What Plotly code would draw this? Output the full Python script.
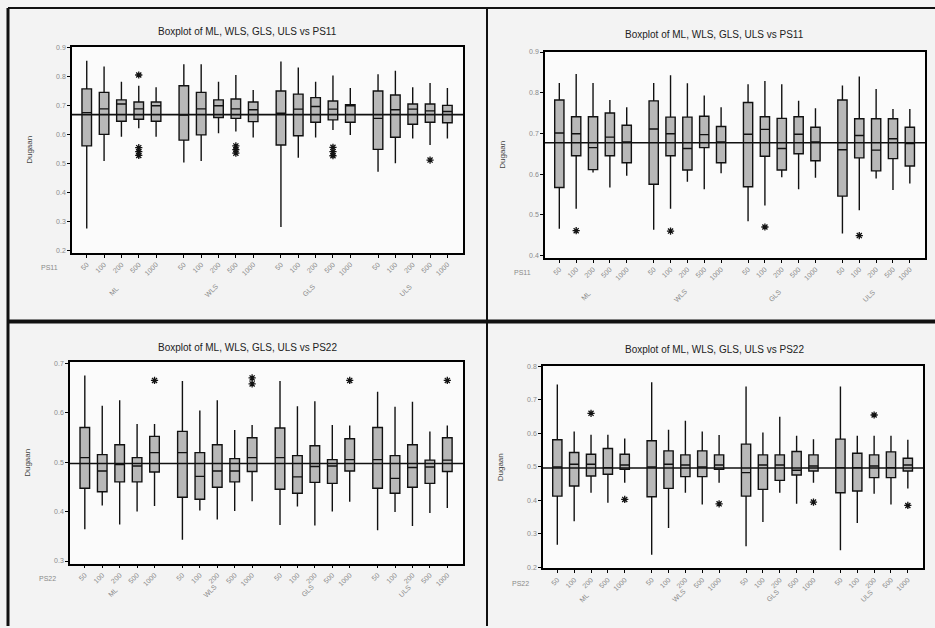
import plotly.graph_objects as go

# ---------------- data ----------------
methods = ["ML", "WLS", "GLS", "ULS"]
sizes = ["50", "100", "200", "500", "1000"]

# Panel 1: top-left, PS11
p1_title = "Boxplot of ML, WLS, GLS, ULS vs PS11"
p1_ref = 0.668
p1_upper = [0.854, 0.834, 0.782, 0.768, 0.763, 0.842, 0.842, 0.782, 0.805, 0.753,
            0.852, 0.831, 0.782, 0.803, 0.760, 0.808, 0.820, 0.763, 0.777, 0.760]
p1_q3 = [0.757, 0.745, 0.719, 0.712, 0.712, 0.768, 0.745, 0.719, 0.722, 0.712,
         0.750, 0.739, 0.727, 0.715, 0.702, 0.750, 0.736, 0.705, 0.705, 0.700]
p1_med = [0.675, 0.688, 0.705, 0.688, 0.699, 0.667, 0.688, 0.699, 0.688, 0.685,
          0.673, 0.687, 0.696, 0.687, 0.700, 0.655, 0.685, 0.687, 0.681, 0.679]
p1_q1 = [0.560, 0.600, 0.645, 0.652, 0.645, 0.580, 0.598, 0.658, 0.655, 0.644,
         0.563, 0.595, 0.642, 0.650, 0.642, 0.548, 0.590, 0.635, 0.642, 0.640]
p1_lower = [0.275, 0.508, 0.592, 0.621, 0.592, 0.503, 0.508, 0.604, 0.610, 0.589,
            0.280, 0.519, 0.589, 0.615, 0.598, 0.471, 0.500, 0.586, 0.563, 0.586]
p1_out_idx = [3, 3, 3, 3, 8, 8, 8, 13, 13, 13, 18]
p1_out_val = [0.805, 0.554, 0.540, 0.527, 0.560, 0.547, 0.535, 0.555, 0.540, 0.526, 0.511]
p1_yticks = [0.2, 0.3, 0.4, 0.5, 0.6, 0.7, 0.8, 0.9]

# Panel 2: top-right, PS11
p2_title = "Boxplot of ML, WLS, GLS, ULS vs PS11"
p2_ref = 0.677
p2_upper = [0.824, 0.846, 0.824, 0.782, 0.764, 0.824, 0.843, 0.823, 0.793, 0.764,
            0.821, 0.829, 0.821, 0.780, 0.762, 0.818, 0.840, 0.809, 0.760, 0.760]
p2_q3 = [0.782, 0.741, 0.741, 0.750, 0.720, 0.780, 0.740, 0.740, 0.742, 0.717,
         0.776, 0.741, 0.737, 0.741, 0.715, 0.782, 0.736, 0.736, 0.736, 0.715]
p2_med = [0.701, 0.699, 0.665, 0.691, 0.679, 0.711, 0.699, 0.663, 0.697, 0.679,
          0.698, 0.710, 0.663, 0.698, 0.679, 0.660, 0.695, 0.659, 0.687, 0.675]
p2_q1 = [0.567, 0.645, 0.611, 0.645, 0.628, 0.575, 0.645, 0.610, 0.665, 0.628,
         0.569, 0.644, 0.610, 0.650, 0.633, 0.546, 0.640, 0.608, 0.638, 0.620]
p2_lower = [0.466, 0.515, 0.604, 0.567, 0.596, 0.463, 0.515, 0.581, 0.563, 0.602,
            0.484, 0.523, 0.592, 0.563, 0.591, 0.454, 0.511, 0.589, 0.561, 0.577]
p2_out_idx = [1, 6, 11, 16]
p2_out_val = [0.461, 0.460, 0.470, 0.449]
p2_yticks = [0.4, 0.5, 0.6, 0.7, 0.8, 0.9]

# Panel 3: bottom-left, PS22
p3_title = "Boxplot of ML, WLS, GLS, ULS vs PS22"
p3_ref = 0.497
p3_upper = [0.675, 0.614, 0.625, 0.577, 0.577, 0.664, 0.604, 0.625, 0.565, 0.575,
            0.664, 0.613, 0.623, 0.575, 0.574, 0.642, 0.612, 0.622, 0.562, 0.574]
p3_q3 = [0.570, 0.515, 0.535, 0.509, 0.552, 0.562, 0.519, 0.535, 0.507, 0.549,
         0.569, 0.513, 0.533, 0.505, 0.547, 0.570, 0.513, 0.535, 0.504, 0.549]
p3_med = [0.509, 0.482, 0.495, 0.492, 0.519, 0.519, 0.471, 0.482, 0.482, 0.509,
          0.509, 0.470, 0.491, 0.492, 0.505, 0.505, 0.467, 0.489, 0.490, 0.504]
p3_q1 = [0.447, 0.440, 0.460, 0.460, 0.480, 0.429, 0.425, 0.449, 0.460, 0.481,
         0.445, 0.437, 0.459, 0.457, 0.482, 0.447, 0.437, 0.449, 0.457, 0.481]
p3_lower = [0.364, 0.412, 0.374, 0.400, 0.411, 0.343, 0.402, 0.384, 0.401, 0.421,
            0.373, 0.410, 0.372, 0.400, 0.420, 0.362, 0.399, 0.371, 0.397, 0.407]
p3_out_idx = [4, 9, 9, 14, 19]
p3_out_val = [0.665, 0.670, 0.658, 0.665, 0.665]
p3_yticks = [0.3, 0.4, 0.5, 0.6, 0.7]

# Panel 4: bottom-right, PS22
p4_title = "Boxplot of ML, WLS, GLS, ULS vs PS22"
p4_ref = 0.497
p4_upper = [0.746, 0.606, 0.596, 0.596, 0.585, 0.753, 0.611, 0.638, 0.606, 0.595,
            0.740, 0.603, 0.650, 0.593, 0.583, 0.740, 0.593, 0.593, 0.593, 0.581]
p4_q3 = [0.581, 0.543, 0.538, 0.555, 0.538, 0.578, 0.548, 0.536, 0.548, 0.536,
         0.568, 0.536, 0.536, 0.546, 0.536, 0.583, 0.541, 0.536, 0.545, 0.526]
p4_med = [0.500, 0.508, 0.508, 0.498, 0.506, 0.500, 0.508, 0.506, 0.500, 0.506,
          0.483, 0.506, 0.506, 0.490, 0.503, 0.498, 0.498, 0.503, 0.498, 0.506]
p4_q1 = [0.413, 0.443, 0.473, 0.478, 0.493, 0.411, 0.436, 0.471, 0.471, 0.493,
         0.413, 0.433, 0.460, 0.476, 0.488, 0.423, 0.428, 0.468, 0.468, 0.488]
p4_lower = [0.268, 0.338, 0.423, 0.393, 0.453, 0.238, 0.318, 0.423, 0.388, 0.453,
            0.263, 0.336, 0.423, 0.390, 0.453, 0.251, 0.333, 0.420, 0.388, 0.436]
p4_out_idx = [2, 4, 9, 14, 17, 19]
p4_out_val = [0.660, 0.403, 0.390, 0.395, 0.655, 0.385]
p4_yticks = [0.2, 0.3, 0.4, 0.5, 0.6, 0.7, 0.8]

# ---------------- layout helpers ----------------
W, H = 935, 628
GROUP_STEP = 5.6
pos = [g * GROUP_STEP + i for g in range(len(methods)) for i in range(len(sizes))]
ticktext = [s for _ in methods for s in sizes]

def px_x(v):
    return v / W

def px_y(v):
    return 1 - v / H

panels = [
    dict(title=p1_title, ref=p1_ref, up=p1_upper, q3=p1_q3, med=p1_med, q1=p1_q1, lo=p1_lower,
         oi=p1_out_idx, ov=p1_out_val, yt=p1_yticks, yr=[0.19, 0.903],
         frame=(72, 463, 44, 252), tcx=247, tcy=29, ps="PS11"),
    dict(title=p2_title, ref=p2_ref, up=p2_upper, q3=p2_q3, med=p2_med, q1=p2_q1, lo=p2_lower,
         oi=p2_out_idx, ov=p2_out_val, yt=p2_yticks, yr=[0.394, 0.901],
         frame=(545, 925, 49, 257), tcx=714, tcy=32, ps="PS11"),
    dict(title=p3_title, ref=p3_ref, up=p3_upper, q3=p3_q3, med=p3_med, q1=p3_q1, lo=p3_lower,
         oi=p3_out_idx, ov=p3_out_val, yt=p3_yticks, yr=[0.295, 0.702],
         frame=(70, 463, 362, 565), tcx=247, tcy=347, ps="PS22"),
    dict(title=p4_title, ref=p4_ref, up=p4_upper, q3=p4_q3, med=p4_med, q1=p4_q1, lo=p4_lower,
         oi=p4_out_idx, ov=p4_out_val, yt=p4_yticks, yr=[0.197, 0.801],
         frame=(543, 923, 366, 570), tcx=714, tcy=349, ps="PS22"),
]

fig = go.Figure()
layout = dict(
    width=W, height=H, margin=dict(l=0, r=0, t=0, b=0),
    paper_bgcolor="#f3f3f3", plot_bgcolor="#fbfbfb",
    showlegend=False, font=dict(family="Liberation Sans, Arial, sans-serif", color="#222"),
)
shapes, annotations = [], []
tick_font = dict(size=7, color="#8a8a8a")

for k, p in enumerate(panels, start=1):
    xa = "x" if k == 1 else f"x{k}"
    ya = "y" if k == 1 else f"y{k}"
    xl, xr, yt_, yb = p["frame"]
    layout["xaxis" if k == 1 else f"xaxis{k}"] = dict(
        domain=[px_x(xl), px_x(xr)], anchor=ya, range=[-0.85, 21.7],
        tickmode="array", tickvals=pos, ticktext=ticktext, tickangle=-45,
        tickfont=tick_font, ticks="outside", ticklen=3, tickcolor="black",
        showline=True, linecolor="black", linewidth=1.5, mirror=True,
        showgrid=False, zeroline=False, fixedrange=True,
    )
    layout["yaxis" if k == 1 else f"yaxis{k}"] = dict(
        domain=[px_y(yb), px_y(yt_)], anchor=xa, range=p["yr"],
        tickmode="array", tickvals=p["yt"], ticktext=[f"{v:.1f}" for v in p["yt"]],
        tickfont=tick_font, ticks="outside", ticklen=3, tickcolor="black",
        showline=True, linecolor="black", linewidth=1.5, mirror=True,
        showgrid=False, zeroline=False, fixedrange=True,
        title=dict(text="Dugaan", font=dict(size=8, color="#444"), standoff=22),
    )
    fig.add_trace(go.Box(
        x=pos, q1=p["q1"], median=p["med"], q3=p["q3"],
        lowerfence=p["lo"], upperfence=p["up"],
        width=0.55, whiskerwidth=0, fillcolor="#b8b8b8",
        line=dict(color="#111", width=1.4), boxpoints=False,
        xaxis=xa, yaxis=ya, hoverinfo="skip",
    ))
    fig.add_trace(go.Scatter(
        x=[pos[i] for i in p["oi"]], y=p["ov"], mode="markers",
        marker=dict(symbol="asterisk-open", size=6, color="#111", line=dict(width=1.3, color="#111")),
        xaxis=xa, yaxis=ya, hoverinfo="skip",
    ))
    # reference line
    shapes.append(dict(type="line", xref=f"{xa} domain", yref=ya, x0=0, x1=1,
                       y0=p["ref"], y1=p["ref"], line=dict(color="#111", width=1.6)))
    # title
    annotations.append(dict(text=p["title"], x=px_x(p["tcx"]), y=px_y(p["tcy"]),
                            xref="paper", yref="paper", showarrow=False,
                            font=dict(size=10, color="#222"), xanchor="center", yanchor="middle"))
    # PS label at left of x tick labels
    annotations.append(dict(text=p["ps"], x=px_x(xl - 12), y=px_y(yb + 15),
                            xref="paper", yref="paper", showarrow=False,
                            font=dict(size=7, color="#8a8a8a"), xanchor="right", yanchor="middle"))
    # group labels
    for g, m in enumerate(methods):
        annotations.append(dict(text=m, x=g * GROUP_STEP + 1.6, xref=xa, y=px_y(yb + 38), yref="paper",
                                showarrow=False, textangle=-45,
                                font=dict(size=7, color="#8a8a8a")))

# panel borders of the scanned page
shapes += [
    dict(type="line", xref="paper", yref="paper", x0=px_x(8), x1=px_x(8), y0=0, y1=px_y(5), line=dict(color="#111", width=3)),
    dict(type="line", xref="paper", yref="paper", x0=px_x(8), x1=1, y0=px_y(5), y1=px_y(5), line=dict(color="#111", width=2)),
    dict(type="line", xref="paper", yref="paper", x0=px_x(487), x1=px_x(487), y0=0, y1=px_y(5), line=dict(color="#111", width=2)),
    dict(type="line", xref="paper", yref="paper", x0=px_x(8), x1=1, y0=px_y(321), y1=px_y(321), line=dict(color="#111", width=4)),
]
layout["shapes"] = shapes
layout["annotations"] = annotations
fig.update_layout(**layout)
fig.write_html("out.html", config={"displayModeBar": False},
               post_script="document.body.style.margin='0';document.body.style.overflow='hidden';")
